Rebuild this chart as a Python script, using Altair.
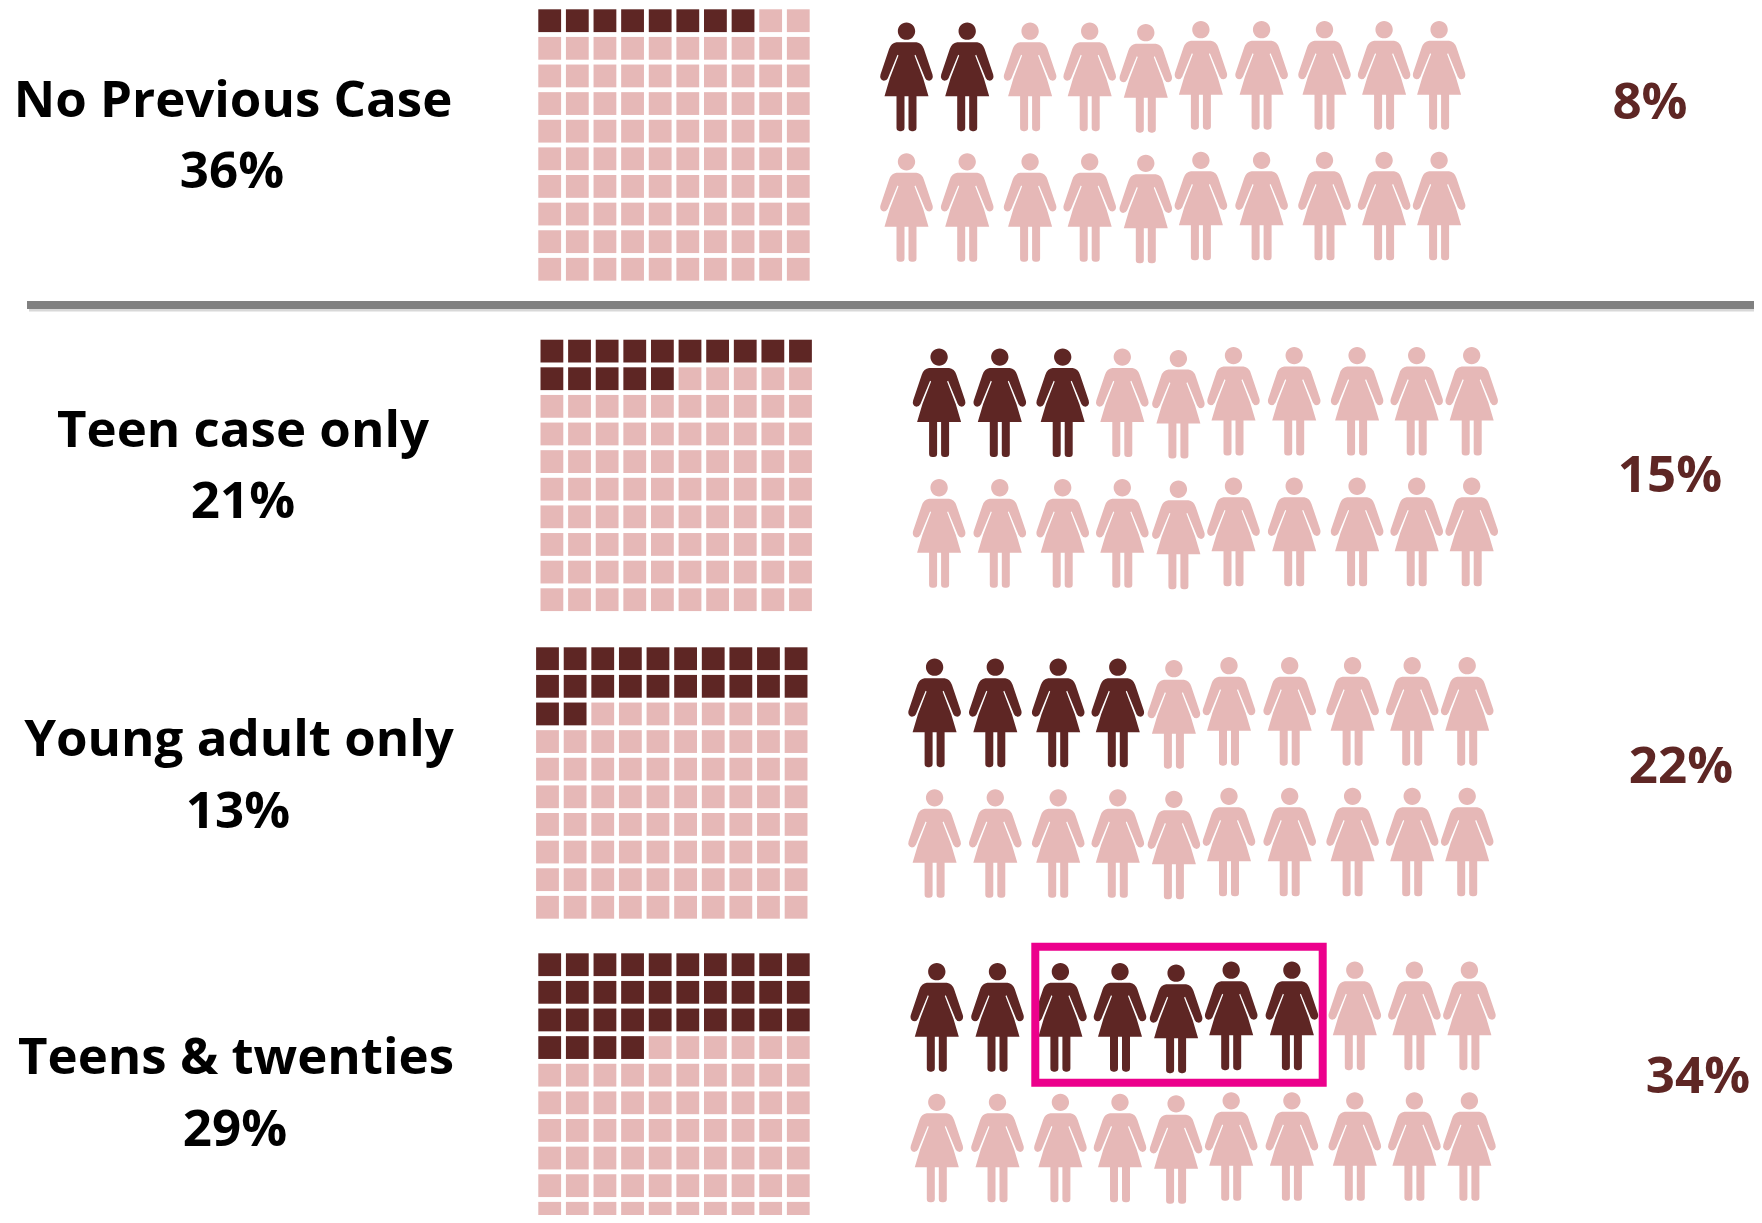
import altair as alt
import pandas as pd

# ---- chart values ----
labels = ["No Previous Case", "Teen case only", "Young adult only", "Teens & twenties"]
left_pct = ["36%", "21%", "13%", "29%"]
right_pct = ["8%", "15%", "22%", "34%"]
waffle_dark = [8, 15, 22, 34]
people_dark = [2, 3, 4, 7]

# ---- layout (reference pixels) ----
W, H = 1762, 1223
WAFFLE_X = [538.3, 540.5, 536.1, 538.3]
WAFFLE_Y = [9.3, 339.7, 647.3, 953.3]
CELL, PITCH = 22.8, 27.62
PEOPLE_X = [906.5, 939.1, 934.6, 936.8]
PEOPLE_Y = [77, 402.9, 713, 1017.5 - 0]
PEOPLE_COL_DX = [0, 60.7, 123.6, 183.2, 239.3, 294.4, 355.1, 418, 477.6, 532.6]
PEOPLE_COL_DY = [0, 0, 0, 0, 1.5, -1.5, -1.5, -1.5, -1.5, -1.5]
PEOPLE_ROW = 130.7
LABEL_CX = [233, 243, 239, 236]
LABEL_Y = [116.7, 447, 756, 1074]
PCT_CX = [232, 243, 238, 235]
PCT_Y = [188, 518, 828, 1146]
RIGHT_CX = [1650, 1670, 1681, 1698]
RIGHT_Y = [119, 492, 783, 1093]
DARK, LIGHT, PINK, GREY = "#5E2624", "#E6B8B7", "#EC008C", "#808080"
FONT = "Open Sans"
FONT_SIZE = 51


def person_path():
    s = 162.5
    cy = 262.5
    right = [
        ("M", 0, 158), ("L", 30, 158), ("Q", 46, 160, 52, 178), ("L", 78, 255),
        ("Q", 82, 270, 68, 274), ("Q", 60, 274, 56, 266), ("L", 27, 196), ("L", 24, 198),
        ("L", 50, 266), ("L", 66, 320), ("L", 30, 320), ("L", 30, 415),
        ("Q", 30, 425, 20, 425), ("L", 16, 425), ("Q", 6, 425, 6, 415), ("L", 6, 320), ("L", 0, 320),
    ]
    def pt(x, y):
        return f"{x / s:.4f} {(y - cy) / s:.4f}"
    parts = []
    for seg in right:
        if seg[0] == "Q":
            parts.append(f"Q{pt(seg[1], seg[2])} {pt(seg[3], seg[4])}")
        else:
            parts.append(f"{seg[0]}{pt(seg[1], seg[2])}")
    # mirror the right half, walking back up the left side
    ends = [(s_[-2], s_[-1]) for s_ in right]
    for i in range(len(right) - 1, 0, -1):
        seg = right[i]
        px, py = ends[i - 1]
        if seg[0] == "Q":
            parts.append(f"Q{pt(-seg[1], seg[2])} {pt(-px, py)}")
        else:
            parts.append(f"L{pt(-px, py)}")
    parts.append("Z")
    r = 26 / s
    hy = (125 - cy) / s
    parts.append(f"M{-r:.4f} {hy:.4f}A{r:.4f} {r:.4f} 0 1 1 {r:.4f} {hy:.4f}A{r:.4f} {r:.4f} 0 1 1 {-r:.4f} {hy:.4f}Z")
    return "".join(parts)


# ---- tables ----
cells = []
for p, n in enumerate(waffle_dark):
    for r in range(10):
        for c in range(10):
            x = WAFFLE_X[p] + c * PITCH
            y = WAFFLE_Y[p] + r * PITCH
            cells.append(dict(x=x, x2=x + CELL, y=y, y2=y + CELL,
                              tone="dark" if r * 10 + c < n else "light"))
people = []
for p, n in enumerate(people_dark):
    for r in range(2):
        for c in range(10):
            people.append(dict(x=PEOPLE_X[p] + PEOPLE_COL_DX[c],
                               y=PEOPLE_Y[p] + PEOPLE_COL_DY[c] + r * PEOPLE_ROW,
                               tone="dark" if r == 0 and c < n else "light"))
black_text = [dict(t=l, x=x, y=y) for l, x, y in zip(labels, LABEL_CX, LABEL_Y)] + \
             [dict(t=l, x=x, y=y) for l, x, y in zip(left_pct, PCT_CX, PCT_Y)]
red_text = [dict(t=l, x=x, y=y) for l, x, y in zip(right_pct, RIGHT_CX, RIGHT_Y)]

PW, PH = W - 16, H - 16
xs = alt.Scale(domain=[8, 8 + PW], range=[0, PW])
ys = alt.Scale(domain=[8, 8 + PH], range=[0, PH])
X = alt.X("x:Q", scale=xs, axis=None)
Y = alt.Y("y:Q", scale=ys, axis=None)
tone = alt.Color("tone:N", scale=alt.Scale(domain=["dark", "light"], range=[DARK, LIGHT]), legend=None)

waffles = alt.Chart(pd.DataFrame(cells)).mark_rect(stroke=None, clip=True).encode(
    x=X, x2="x2:Q", y=Y, y2="y2:Q", color=tone)
figures = alt.Chart(pd.DataFrame(people)).mark_point(
    shape=person_path(), filled=True, size=162.5 * 162.5 * 4 / 9, opacity=1, strokeWidth=0
).encode(x=X, y=Y, color=tone)
black = alt.Chart(pd.DataFrame(black_text)).mark_text(
    font=FONT, fontSize=FONT_SIZE, fontWeight=700, color="#000000", align="center", baseline="alphabetic"
).encode(x=X, y=Y, text="t:N")
red = alt.Chart(pd.DataFrame(red_text)).mark_text(
    font=FONT, fontSize=FONT_SIZE, fontWeight=700, color=DARK, align="center", baseline="alphabetic"
).encode(x=X, y=Y, text="t:N")
shade = alt.Chart(pd.DataFrame([dict(x=29, x2=8 + PW, y=309, y2=311.5)])).mark_rect(color="#D8D8D8").encode(
    x=X, x2="x2:Q", y=Y, y2="y2:Q")
divider = alt.Chart(pd.DataFrame([dict(x=27, x2=8 + PW, y=301, y2=309)])).mark_rect(color=GREY).encode(
    x=X, x2="x2:Q", y=Y, y2="y2:Q")
box = alt.Chart(pd.DataFrame([dict(x=1035.3, x2=1322.7, y=946.7, y2=1082.7)])).mark_rect(
    fillOpacity=0, stroke=PINK, strokeWidth=8).encode(x=X, x2="x2:Q", y=Y, y2="y2:Q")

chart = alt.layer(shade, divider, waffles, figures, box, black, red).properties(
    width=PW, height=PH, padding=0, background="white",
    autosize=alt.AutoSizeParams(type="none"),
).configure_view(stroke=None)

chart.save("out.html", embed_options={"renderer": "svg", "actions": False})
